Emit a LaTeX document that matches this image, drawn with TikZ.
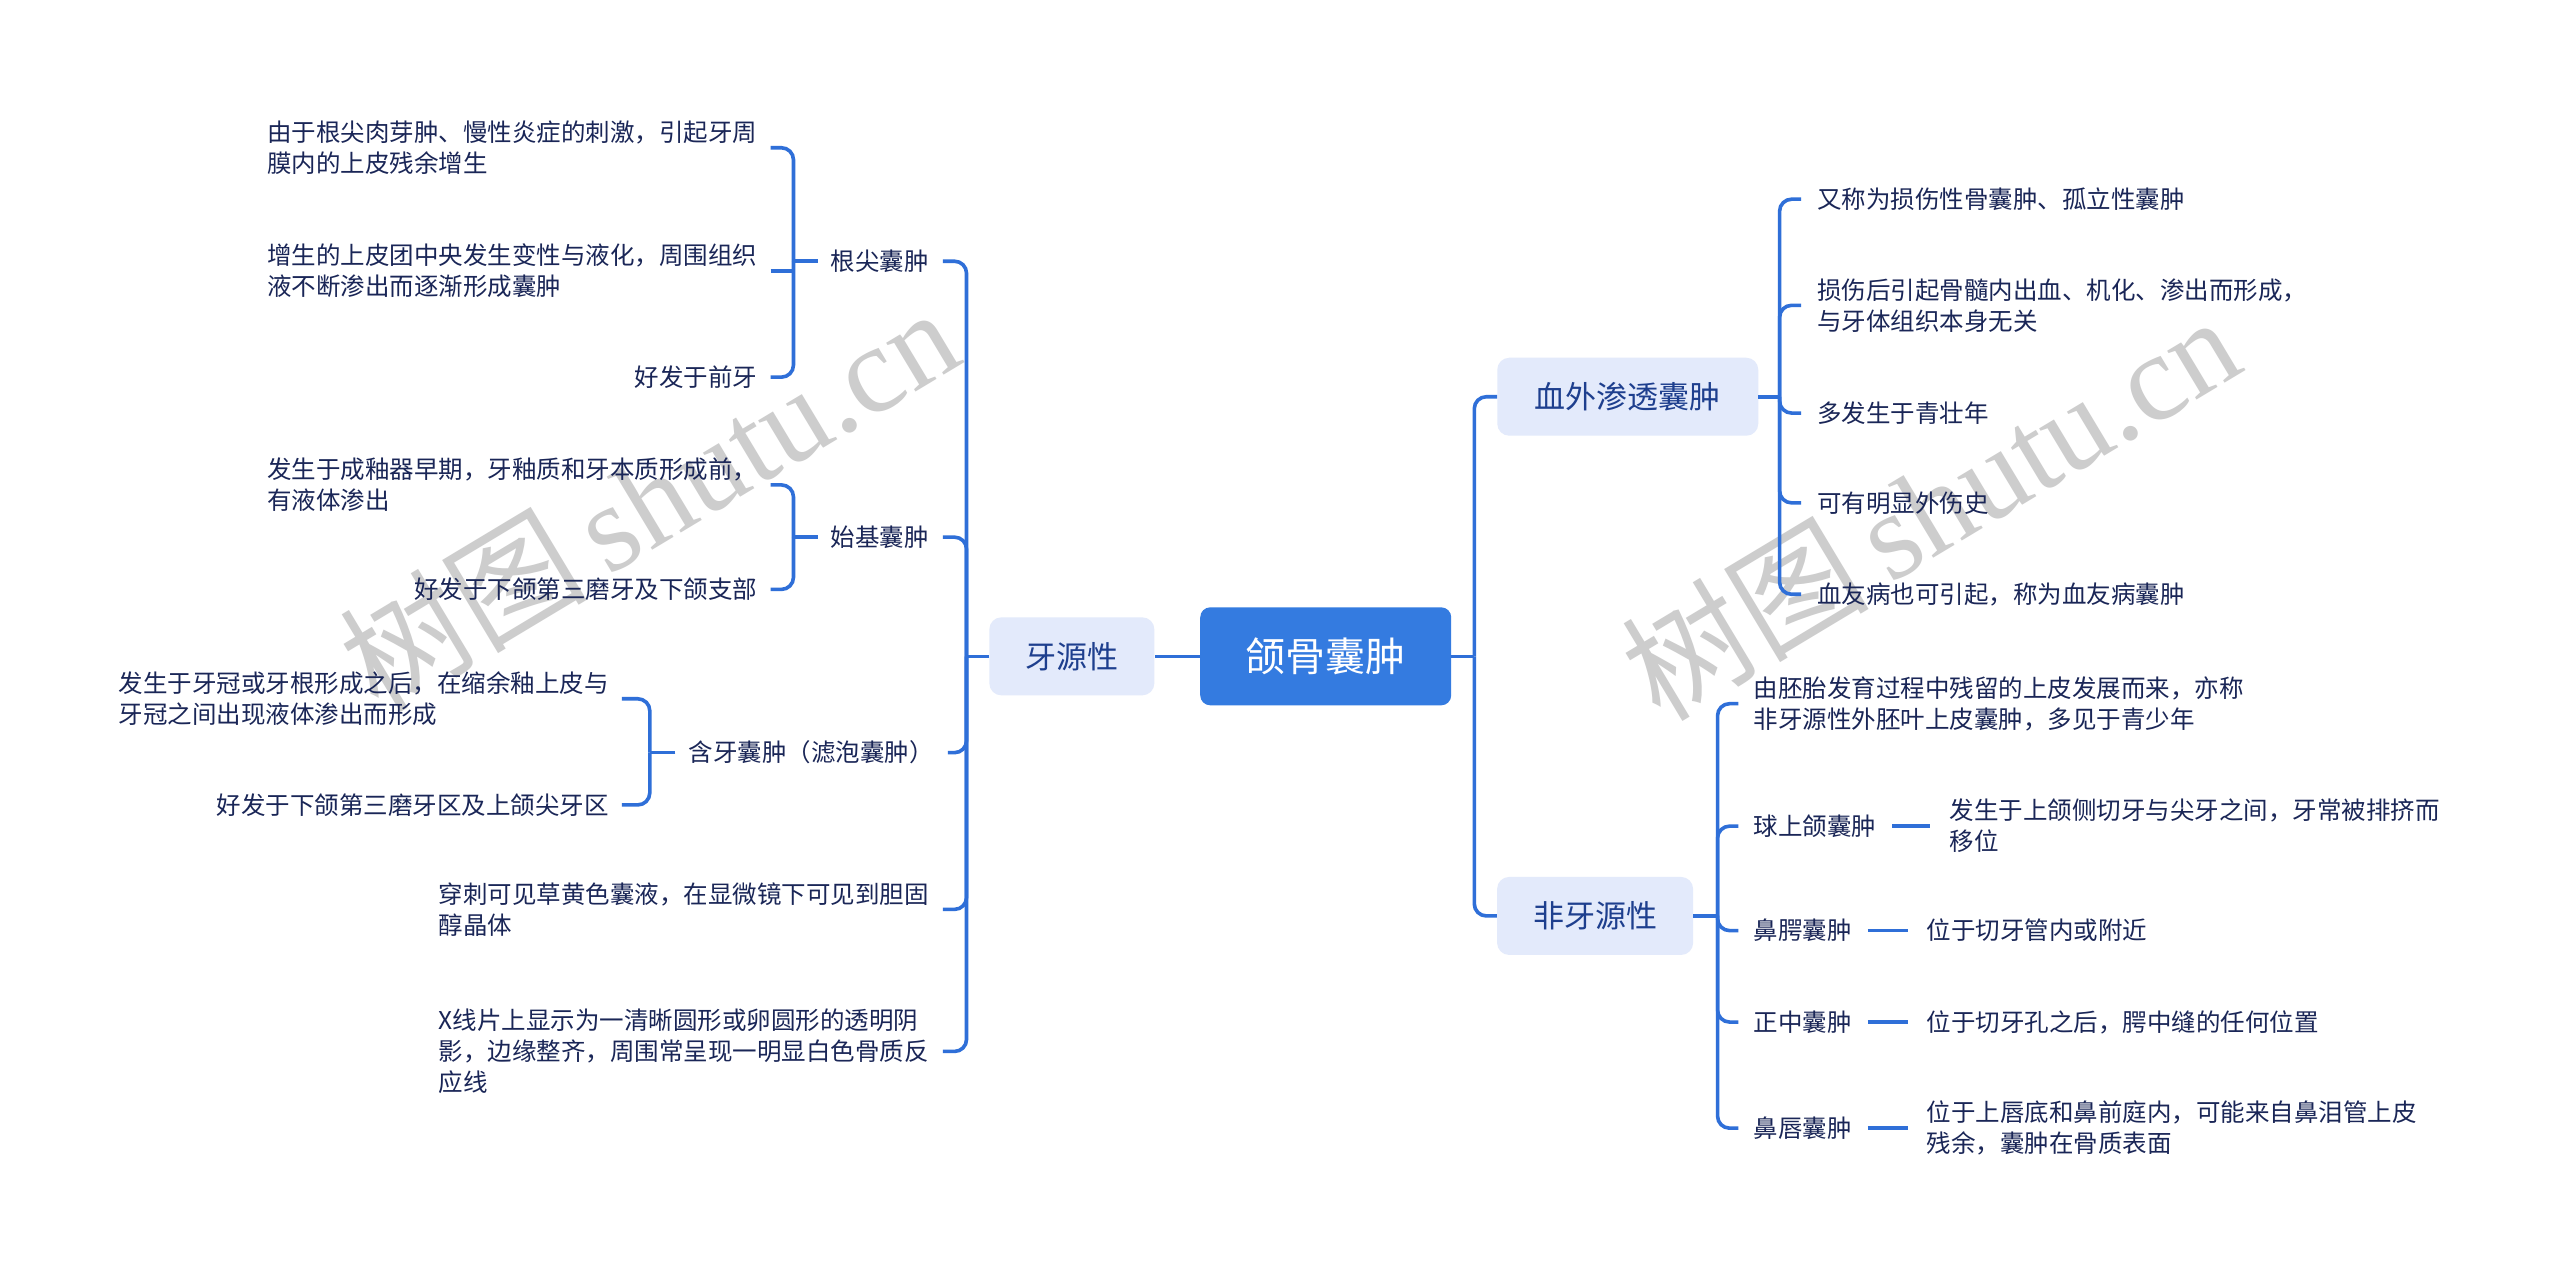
\documentclass[tikz,border=0pt]{standalone}
\usepackage{fontspec}
\setmainfont{Noto Sans CJK SC}
\newfontfamily\wmfont{Liberation Serif}
\definecolor{linec}{HTML}{2F6FD8}
\definecolor{rootc}{HTML}{347BE0}
\definecolor{lonefill}{HTML}{E3EAFB}
\definecolor{lonetext}{HTML}{1E3F8E}
\definecolor{leafc}{HTML}{1A2657}
\definecolor{wmc}{HTML}{CDCDCD}
\begin{document}
\begin{tikzpicture}[x=1.6327pt,y=-1.6327pt,
 conn/.style={draw=linec, line width=3.6pt, rounded corners=12pt},
 rootbox/.style={fill=rootc, rounded corners=10pt, minimum width=251pt, minimum height=98pt, text=white, font=\fontsize{40}{48}\selectfont, inner sep=0pt},
 lonebox/.style={fill=lonefill, rounded corners=12pt, minimum height=78pt, text=lonetext, font=\fontsize{31}{38}\selectfont, inner sep=0pt},
 leaf/.style={inner sep=0pt, align=left, text=leafc, font=\fontsize{24.5}{31}\selectfont},
 wm/.style={text=wmc, font=\fontsize{124}{130}\selectfont, rotate=31, inner sep=0pt}]
\useasboundingbox[fill=white] (0,0) rectangle (1568,782);

% watermarks
\node[wm] (wm1) at (397,305) {树图\,{\wmfont shutu.cn}};
\node[wm] (wm2) at (1182,310) {树图\,{\wmfont shutu.cn}};

% main nodes
\node[rootbox] (root) at (812,402) {颌骨囊肿};
\node[lonebox, minimum width=165pt] (ys) at (656.5,402) {牙源性};
\node[lonebox, minimum width=261pt] (xw) at (997,243) {血外渗透囊肿};
\node[lonebox, minimum width=196pt] (fy) at (977,561) {非牙源性};

% left side, level 2
\node[leaf, anchor=east] (gj) at (569,160) {根尖囊肿};
\node[leaf, anchor=east] (sj) at (569,329) {始基囊肿};
\node[leaf, anchor=east] (hy) at (572,461) {含牙囊肿（滤泡囊肿）};
\node[leaf, anchor=east] (cc) at (569,557) {穿刺可见草黄色囊液，在显微镜下可见到胆固\\醇晶体};
\node[leaf, anchor=east] (xx) at (569,644) {X线片上显示为一清晰圆形或卵圆形的透明阴\\影，边缘整齐，周围常呈现一明显白色骨质反\\应线};

% left side, level 3
\node[leaf, anchor=east] (gj1) at (464,90.5) {由于根尖肉芽肿、慢性炎症的刺激，引起牙周\\膜内的上皮残余增生};
\node[leaf, anchor=east] (gj2) at (464,166) {增生的上皮团中央发生变性与液化，周围组织\\液不断渗出而逐渐形成囊肿};
\node[leaf, anchor=east] (gj3) at (464,231) {好发于前牙};
\node[leaf, anchor=east] (sj1) at (464,297) {发生于成釉器早期，牙釉质和牙本质形成前，\\有液体渗出};
\node[leaf, anchor=east] (sj2) at (464,361) {好发于下颌第三磨牙及下颌支部};
\node[leaf, anchor=east] (hy1) at (373,428) {发生于牙冠或牙根形成之后，在缩余釉上皮与\\牙冠之间出现液体渗出而形成};
\node[leaf, anchor=east] (hy2) at (373,493) {好发于下颌第三磨牙区及上颌尖牙区};

% right side: 血外渗透囊肿
\node[leaf, anchor=west] (r1) at (1113,122) {又称为损伤性骨囊肿、孤立性囊肿};
\node[leaf, anchor=west] (r2) at (1113,187) {损伤后引起骨髓内出血、机化、渗出而形成，\\与牙体组织本身无关};
\node[leaf, anchor=west] (r3) at (1113,253) {多发生于青壮年};
\node[leaf, anchor=west] (r4) at (1113,308) {可有明显外伤史};
\node[leaf, anchor=west] (r5) at (1113,364) {血友病也可引起，称为血友病囊肿};

% right side: 非牙源性
\node[leaf, anchor=west] (f1) at (1074,431) {由胚胎发育过程中残留的上皮发展而来，亦称\\非牙源性外胚叶上皮囊肿，多见于青少年};
\node[leaf, anchor=west] (f2) at (1074,506) {球上颌囊肿};
\node[leaf, anchor=west] (f3) at (1074,570) {鼻腭囊肿};
\node[leaf, anchor=west] (f4) at (1074,626) {正中囊肿};
\node[leaf, anchor=west] (f5) at (1074,691) {鼻唇囊肿};
\node[leaf, anchor=west] (q1) at (1194,506) {发生于上颌侧切牙与尖牙之间，牙常被排挤而\\移位};
\node[leaf, anchor=west] (n1) at (1180,570) {位于切牙管内或附近};
\node[leaf, anchor=west] (z1) at (1180,626) {位于切牙孔之后，腭中缝的任何位置};
\node[leaf, anchor=west] (b1) at (1180,691) {位于上唇底和鼻前庭内，可能来自鼻泪管上皮\\残余，囊肿在骨质表面};

% junction points
\coordinate (jL) at (592,402);
\coordinate (jGJ) at (486,160);
\coordinate (jSJ) at (486,329);
\coordinate (jHY) at (398,461);
\coordinate (jR) at (903,402);
\coordinate (jXW) at (1090,243);
\coordinate (jFY) at (1052,561);

% connectors
\draw[conn] (root.west) -- (ys.east);
\draw[conn] (ys.west) -- (jL);
\foreach \n in {gj,sj,hy,cc,xx} \draw[conn] ([xshift=14pt]\n.east) -| (jL);

\draw[conn] ([xshift=-13pt]gj.west) -- (jGJ);
\foreach \n in {gj1,gj3} \draw[conn] ([xshift=13pt]\n.east) -| (jGJ);
\draw[conn] ([xshift=13pt]gj2.east) -- (gj2.east -| jGJ);

\draw[conn] ([xshift=-13pt]sj.west) -- (jSJ);
\foreach \n in {sj1,sj2} \draw[conn] ([xshift=13pt]\n.east) -| (jSJ);

\draw[conn] ([xshift=-13pt]hy.west) -- (jHY);
\foreach \n in {hy1,hy2} \draw[conn] ([xshift=13pt]\n.east) -| (jHY);

\draw[conn] (root.east) -- (jR);
\draw[conn] (xw.west) -| (jR);
\draw[conn] (fy.west) -| (jR);

\draw[conn] (xw.east) -- (jXW);
\foreach \n in {r1,r2,r3,r4,r5} \draw[conn] ([xshift=-16pt]\n.west) -| (jXW);

\draw[conn] (fy.east) -- (jFY);
\foreach \n in {f1,f2,f3,f4,f5} \draw[conn] ([xshift=-15pt]\n.west) -| (jFY);

\draw[conn] ([xshift=16pt]f2.east) -- ([xshift=-19pt]q1.west);
\draw[conn] ([xshift=16pt]f3.east) -- ([xshift=-19pt]n1.west);
\draw[conn] ([xshift=16pt]f4.east) -- ([xshift=-19pt]z1.west);
\draw[conn] ([xshift=16pt]f5.east) -- ([xshift=-19pt]b1.west);
\end{tikzpicture}
\end{document}
